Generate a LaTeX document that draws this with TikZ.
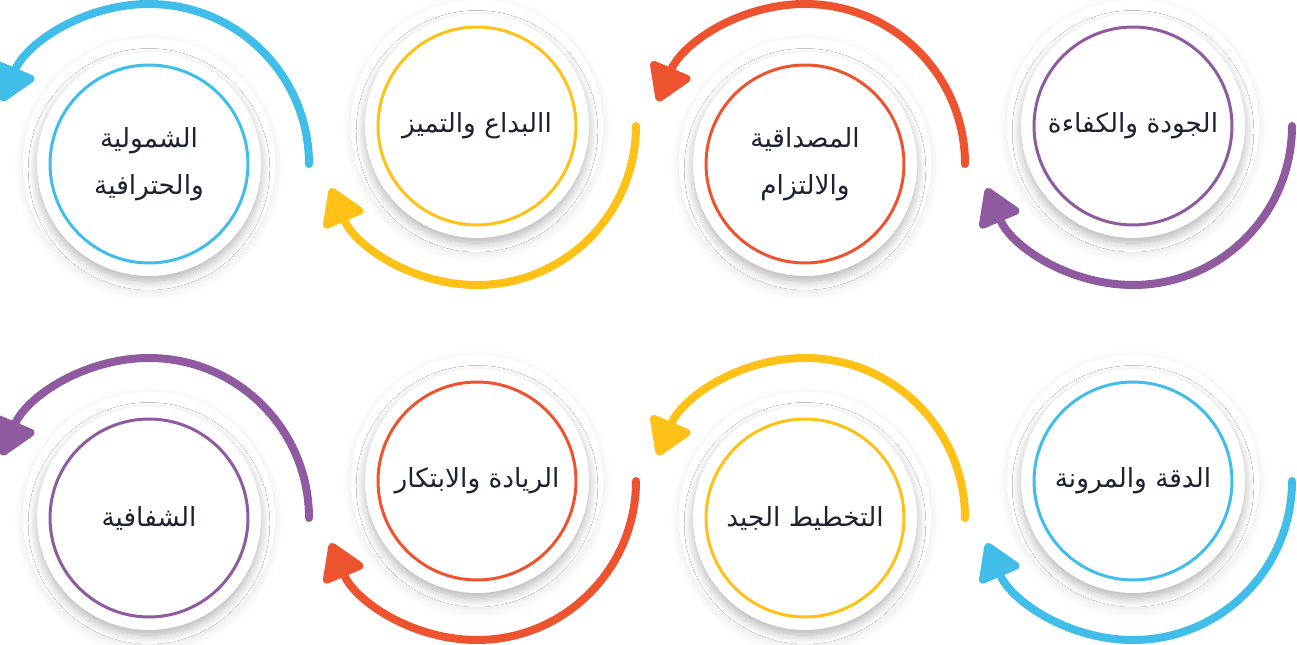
\documentclass[tikz,border=0pt]{standalone}
\usepackage{fontspec}
\newfontfamily\arabicfont[Script=Arabic]{DejaVu Sans}
\TeXXeTstate=1
\usetikzlibrary{arrows.meta, shadows.blur}
\definecolor{cpurple}{HTML}{8F5A9F}
\definecolor{corange}{HTML}{EE5330}
\definecolor{cyellow}{HTML}{FDC118}
\definecolor{cblue}{HTML}{41BDEA}
\definecolor{ctext}{HTML}{1B2232}

\begin{document}
\begin{tikzpicture}[x=0.02cm, y=0.02cm,
    outerdisk/.style={fill=white, blur shadow={shadow xshift=0pt, shadow yshift=-1.5pt, shadow blur radius=5pt, shadow blur steps=12, shadow opacity=10}},
    innerdisk/.style={fill=white, blur shadow={shadow xshift=0pt, shadow yshift=-3pt, shadow blur radius=5pt, shadow blur steps=12, shadow opacity=30}},
    valring/.style={circle, draw=#1, line width=0.06cm, fill=white, minimum size=3.96cm, inner sep=0pt,
      align=center, text=ctext, font=\arabicfont\fontsize{15}{26.5}\selectfont},
    cyclearrow/.style={draw=#1, line width=0.16cm, line cap=round, -{Triangle[length=0.8cm, width=0.95cm, round]}}]
  \useasboundingbox (0,0) rectangle (1297,645);

  % top row
  \coordinate (qa) at (1133,519);
  \fill[outerdisk] (qa) circle[radius=126];
  \fill[innerdisk] (qa) circle[radius=112];
  \node[valring=cpurple] (quality) at (qa) {\beginR الجودة والكفاءة\endR};
  \draw[cyclearrow=cpurple] (quality) ++(159,0) arc[start angle=0, end angle=-157, radius=159];

  \coordinate (cr) at (805,481);
  \fill[outerdisk] (cr) circle[radius=126];
  \fill[innerdisk] (cr) circle[radius=112];
  \node[valring=corange] (credibility) at (cr) {\beginR المصداقية\endR\\\beginR والالتزام\endR};
  \draw[cyclearrow=corange] (credibility) ++(160,0) arc[start angle=0, end angle=157, radius=160];

  \coordinate (cx) at (477,519);
  \fill[outerdisk] (cx) circle[radius=126];
  \fill[innerdisk] (cx) circle[radius=112];
  \node[valring=cyellow] (creativity) at (cx) {\beginR االبداع والتميز\endR};
  \draw[cyclearrow=cyellow] (creativity) ++(159,0) arc[start angle=0, end angle=-157, radius=159];

  \coordinate (cp) at (149,481);
  \fill[outerdisk] (cp) circle[radius=126];
  \fill[innerdisk] (cp) circle[radius=112];
  \node[valring=cblue] (comprehensive) at (cp) {\beginR الشمولية\endR\\\beginR والحترافية\endR};
  \draw[cyclearrow=cblue] (comprehensive) ++(160,0) arc[start angle=0, end angle=157, radius=160];

  % bottom row
  \coordinate (pf) at (1133,164);
  \fill[outerdisk] (pf) circle[radius=126];
  \fill[innerdisk] (pf) circle[radius=112];
  \node[valring=cblue] (precision) at (pf) {\beginR الدقة والمرونة\endR};
  \draw[cyclearrow=cblue] (precision) ++(159,0) arc[start angle=0, end angle=-157, radius=159];

  \coordinate (pl) at (805,127);
  \fill[outerdisk] (pl) circle[radius=126];
  \fill[innerdisk] (pl) circle[radius=112];
  \node[valring=cyellow] (planning) at (pl) {\beginR التخطيط الجيد\endR};
  \draw[cyclearrow=cyellow] (planning) ++(160,0) arc[start angle=0, end angle=157, radius=160];

  \coordinate (ld) at (477,164);
  \fill[outerdisk] (ld) circle[radius=126];
  \fill[innerdisk] (ld) circle[radius=112];
  \node[valring=corange] (leadership) at (ld) {\beginR الريادة والابتكار\endR};
  \draw[cyclearrow=corange] (leadership) ++(159,0) arc[start angle=0, end angle=-157, radius=159];

  \coordinate (tr) at (149,127);
  \fill[outerdisk] (tr) circle[radius=126];
  \fill[innerdisk] (tr) circle[radius=112];
  \node[valring=cpurple] (transparency) at (tr) {\beginR الشفافية\endR};
  \draw[cyclearrow=cpurple] (transparency) ++(160,0) arc[start angle=0, end angle=157, radius=160];
\end{tikzpicture}
\end{document}
